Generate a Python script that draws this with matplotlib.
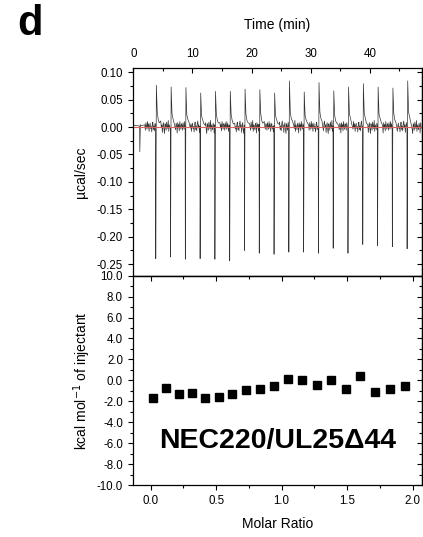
import numpy as np
import matplotlib
matplotlib.use("Agg")
import matplotlib.pyplot as plt
from matplotlib.ticker import MultipleLocator, FormatStrFormatter

plt.rcParams['font.family'] = ['Liberation Sans', 'DejaVu Sans']

# raw thermogram (time in min, power in ucal/sec)
inj_time = [1.1, 3.8, 6.3, 8.8, 11.3, 13.8, 16.3, 18.8, 21.3, 23.8,
            26.3, 28.8, 31.3, 33.8, 36.3, 38.8, 41.3, 43.8, 46.3]
inj_min = [-0.045, -0.240, -0.237, -0.241, -0.240, -0.241, -0.244, -0.225, -0.230, -0.232,
           -0.228, -0.228, -0.230, -0.221, -0.230, -0.214, -0.216, -0.218, -0.222]
inj_max = [0.004, 0.076, 0.073, 0.072, 0.062, 0.065, 0.065, 0.069, 0.068, 0.062,
           0.084, 0.064, 0.081, 0.066, 0.073, 0.079, 0.073, 0.071, 0.084]
# baseline wiggle between injections
noise = [0.004, -0.006, 0.008, 0.002, -0.004, 0.010, -0.002, 0.006, -0.008, 0.003,
         0.007, -0.003, 0.001, -0.009, 0.005, 0.009, -0.005, 0.002, -0.007, 0.006,
         0.011, -0.001, 0.004, -0.010, 0.003, 0.008, -0.004, -0.012, 0.006, 0.001,
         -0.006, 0.009, 0.002, -0.003, 0.012, -0.008, 0.004, 0.000, -0.005, 0.007,
         0.003, -0.011, 0.008, -0.002, 0.005, -0.007, 0.010, 0.001, -0.004, 0.006]
tail = [0.30, 0.16, 0.08]

# integrated heats
molar_ratio = [0.015, 0.117, 0.213, 0.315, 0.417, 0.521, 0.623, 0.728, 0.834, 0.941,
               1.048, 1.155, 1.267, 1.376, 1.488, 1.598, 1.712, 1.827, 1.944]
heat = [-1.71, -0.73, -1.30, -1.17, -1.65, -1.62, -1.27, -0.92, -0.79, -0.57,
        0.13, 0.00, -0.48, 0.00, -0.83, 0.41, -1.11, -0.79, -0.51]

# assemble trace
t_tr, p_tr = [0.0], [0.003]
k = 0
edges = inj_time + [48.8]
for i in range(len(inj_time)):
    t0 = inj_time[i]
    t_tr += [t0 - 0.03, t0, t0 + 0.1]
    p_tr += [noise[k % len(noise)] * 0.5, inj_min[i], inj_max[i]]
    for j, f in enumerate(tail):
        t_tr.append(t0 + 0.25 + 0.18 * j)
        p_tr.append(inj_max[i] * f + abs(noise[(k + j) % len(noise)]) * 0.4)
    tt = t0 + 0.85
    while tt < edges[i + 1] - 0.1:
        t_tr.append(tt)
        p_tr.append(noise[k % len(noise)])
        k += 1
        tt += 0.09

fig = plt.figure(figsize=(4.23, 5.37), dpi=100)
ax1 = fig.add_axes([0.3137, 0.4866, 0.6851, 0.3862])
ax2 = fig.add_axes([0.3137, 0.0968, 0.6851, 0.3898])

ax1.plot(t_tr, p_tr, color='#333333', lw=0.5)
ax1.axhline(0, color='#e06060', lw=0.8)
ax1.set_xlim(-0.1, 48.9)
ax1.set_ylim(-0.271, 0.107)
ax1.xaxis.set_major_locator(MultipleLocator(10))
ax1.xaxis.set_minor_locator(MultipleLocator(5))
ax1.yaxis.set_major_locator(MultipleLocator(0.05))
ax1.yaxis.set_minor_locator(MultipleLocator(0.025))
ax1.yaxis.set_major_formatter(FormatStrFormatter('%.2f'))
ax1.xaxis.tick_top()
ax1.xaxis.set_label_position('top')
ax1.tick_params(axis='x', which='both', direction='in', top=True, bottom=False, pad=6)
ax1.tick_params(axis='y', which='both', direction='out', left=True, right=False)
ax1.set_xlabel('Time (min)', fontsize=10, labelpad=14)
ax1.set_ylabel('µcal/sec', fontsize=10, labelpad=6)

ax2.plot(molar_ratio, heat, 's', color='black', ms=5.5)
ax2.set_xlim(-0.137, 2.075)
ax2.set_ylim(-10, 10)
ax2.xaxis.set_major_locator(MultipleLocator(0.5))
ax2.xaxis.set_minor_locator(MultipleLocator(0.25))
ax2.yaxis.set_major_locator(MultipleLocator(2))
ax2.yaxis.set_minor_locator(MultipleLocator(1))
ax2.xaxis.set_major_formatter(FormatStrFormatter('%.1f'))
ax2.yaxis.set_major_formatter(FormatStrFormatter('%.1f'))
ax2.tick_params(axis='x', which='both', direction='out', bottom=True, top=False, pad=4)
ax2.tick_params(axis='y', which='both', direction='out', left=True, right=False)
ax2.set_xlabel('Molar Ratio', fontsize=10, labelpad=7)
ax2.set_ylabel('kcal mol$^{-1}$ of injectant', fontsize=10, labelpad=2.5)
ax2.text(0.97, -5.8, 'NEC220/UL25Δ44', fontsize=20.5, fontweight='bold',
         ha='center', va='center')

# inward ticks on the opposite sides
sec_r1 = ax1.secondary_yaxis('right')
sec_r1.yaxis.set_major_locator(MultipleLocator(0.05))
sec_r1.yaxis.set_minor_locator(MultipleLocator(0.025))
sec_r2 = ax2.secondary_yaxis('right')
sec_r2.yaxis.set_major_locator(MultipleLocator(2))
sec_r2.yaxis.set_minor_locator(MultipleLocator(1))
sec_t2 = ax2.secondary_xaxis('top')
sec_t2.xaxis.set_major_locator(MultipleLocator(0.5))
sec_t2.xaxis.set_minor_locator(MultipleLocator(0.25))
for sec in (sec_r1, sec_r2, sec_t2):
    sec.tick_params(which='both', direction='in', labelleft=False, labelright=False,
                    labeltop=False, labelbottom=False)
    sec.tick_params(which='major', length=3.5, width=0.8)
    sec.tick_params(which='minor', length=2, width=0.8)
    for s in sec.spines.values():
        s.set_linewidth(0.9)

for ax in (ax1, ax2):
    ax.tick_params(which='major', length=3.5, width=0.8, labelsize=8.3)
    ax.tick_params(which='minor', length=2, width=0.8)
    for s in ax.spines.values():
        s.set_linewidth(0.9)

fig.text(0.04, 0.955, 'd', fontsize=30, fontweight='bold', ha='left', va='center')

fig.savefig('out.png', dpi=100)
